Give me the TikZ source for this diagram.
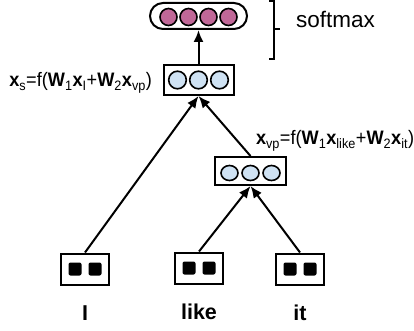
\documentclass[tikz,border=0pt]{standalone}
\usepackage{fontspec}
\setmainfont{Liberation Sans}
\newfontfamily\narrowsans[FakeStretch=0.93]{Liberation Sans}
\usetikzlibrary{arrows.meta,positioning}
\definecolor{softpink}{RGB}{192,104,152}
\definecolor{hidblue}{RGB}{207,226,243}

\begin{document}
\begin{tikzpicture}[x=1pt,y=-1pt,>={Latex[length=12pt,width=10pt]},line width=2pt,
	layer/.style={draw,rectangle,inner sep=0pt,minimum width=70pt,minimum height=30pt},
	leaf/.style={draw,rectangle,inner sep=0pt,minimum width=48pt,minimum height=31pt},
	word/.style={inner sep=0pt,text height=15.5pt,text depth=0pt,font=\fontsize{21.5}{24}\selectfont\bfseries},
	formula/.style={inner sep=0pt,font=\narrowsans\fontsize{19.5}{22}\selectfont},
	unit/.style={draw,line width=1.6pt}]
	\useasboundingbox (0,0) rectangle (414,331);

	\node[leaf] (I) at (85,269) {};
	\node[leaf] (like) at (199,268) {};
	\node[leaf] (it) at (300,269) {};
	\node[word,below=18pt of I] (wI) {I};
	\node[word,below=18pt of like] (wlike) {like};
	\node[word,below=18pt of it] (wit) {it};
	\node[layer,minimum width=71pt,minimum height=28pt] (vp) at (250.5,171) {};
	\node[layer] (s) at (198.5,80) {};
	\node[layer,minimum width=97pt,minimum height=26pt,rounded corners=13pt,above=34pt of s] (top) {};

	% units inside the boxes
	\foreach \dx in {-10,10} {
		\fill[rounded corners=2pt] ([xshift=\dx pt]I.center) ++(-6.5,-6.5) rectangle ++(13,13);
		\fill[rounded corners=2pt] ([xshift=\dx pt]like.center) ++(-6.5,-6.5) rectangle ++(13,13);
		\fill[rounded corners=2pt] ([xshift=\dx pt]it.center) ++(-6.5,-6.5) rectangle ++(13,13);
	}
	\foreach \dx in {-21,0,21} {
		\draw[unit,fill=hidblue] ([xshift=\dx pt,yshift=-2pt]vp.center) ellipse (8.5pt and 7.5pt);
		\draw[unit,fill=hidblue] ([xshift=\dx pt]s.center) circle (8.8pt);
	}
	\foreach \dx in {-30,-10,10,30}
		\draw[unit,fill=softpink] ([xshift=\dx pt,yshift=-1pt]top.center) circle (8.5pt);

	\draw[->] (s) -- (top);
	\draw[->] (I.north) -- (s.south);
	\draw[->] (vp.north) -- (s.south);
	\draw[->] (like.north) -- (vp.south);
	\draw[->] (it.north) -- (vp.south);

	\node[formula,anchor=base east] (fs) at (153,87)
		{\textbf{x}\textsubscript{s}=f(\textbf{W}\textsubscript{1}\textbf{x}\textsubscript{I}+\textbf{W}\textsubscript{2}\textbf{x}\textsubscript{vp})};
	\node[formula,anchor=base west] (fvp) at (255,145)
		{\textbf{x}\textsubscript{vp}=f(\textbf{W}\textsubscript{1}\textbf{x}\textsubscript{like}+\textbf{W}\textsubscript{2}\textbf{x}\textsubscript{it})};

	\draw[line width=1.5pt] (269,1) -- (274,1) -- (274,59) -- (269,59);
	\draw[line width=1.5pt] (274,29) -- (280,29);
	\node[inner sep=0pt,anchor=base west,font=\fontsize{22.5}{26}\selectfont] (sm) at (295,28) {softmax};
\end{tikzpicture}
\end{document}
